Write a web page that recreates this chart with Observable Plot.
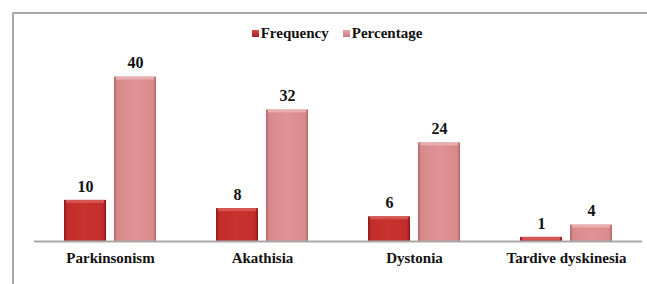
<!DOCTYPE html>
<html>
<head>
<meta charset="utf-8">
<script src="https://cdn.jsdelivr.net/npm/d3@7"></script>
<script src="https://cdn.jsdelivr.net/npm/@observablehq/plot@0.6"></script>
<style>
  html, body { margin: 0; padding: 0; background: #fff; width: 647px; height: 284px; overflow: hidden; }
  #wrap { position: relative; width: 647px; height: 284px; }
  #frame { position: absolute; left: 12px; top: 12px; width: 700px; height: 300px; border-left: 2px solid #a8a8a8; border-top: 2px solid #a8a8a8; }
  #legend { position: absolute; top: 25px; left: 0; width: 674px; text-align: center; font-family: "Liberation Serif", "Times New Roman", serif; font-weight: bold; font-size: 15px; color: #111; }
  #legend span.item { margin: 0 7px; white-space: nowrap; }
  #legend span.sw { display: inline-block; width: 7px; height: 7px; margin-right: 2px; vertical-align: 1px; }
  #chart { position: absolute; left: 0; top: 0; }
  #chart svg, #chart svg text { font-family: "Liberation Serif", "Times New Roman", serif !important; }
</style>
</head>
<body>
<div id="wrap">
  <div id="frame"></div>
  <div id="chart"></div>
  <div id="legend"></div>
</div>
<script>
const categories = ["Parkinsonism", "Akathisia", "Dystonia", "Tardive dyskinesia"];
const series = ["Frequency", "Percentage"];
const frequency = [10, 8, 6, 1];
const percentage = [40, 32, 24, 4];

const data = [];
categories.forEach((c, i) => {
  data.push({category: c, series: "Frequency", value: frequency[i]});
  data.push({category: c, series: "Percentage", value: percentage[i]});
});

const fills = {Frequency: "url(#gFreq)", Percentage: "url(#gPct)"};
const tops = {Frequency: "#d65a56", Percentage: "#eab1b2"};

const chart = Plot.plot({
  width: 647,
  height: 284,
  marginLeft: 33,
  marginRight: 5,
  marginTop: 56,
  marginBottom: 43,
  style: {fontWeight: "bold", fontSize: "15px", color: "#111", background: "transparent", overflow: "visible"},
  fx: {domain: categories, padding: 0, label: null, axis: "bottom", tickSize: 0, tickPadding: 11},
  x: {domain: series, paddingInner: 0.16, paddingOuter: 0.6, axis: null},
  y: {domain: [0, 45], axis: null},
  marks: [
    ...series.map(s => Plot.barY(data.filter(d => d.series === s), {fx: "category", x: "series", y: "value", fill: fills[s]})),
    ...series.map(s => Plot.barY(data.filter(d => d.series === s), {fx: "category", x: "series", y1: "value", y2: "value", insetBottom: -3, insetLeft: 2, insetRight: 2, fill: tops[s], fillOpacity: 0.9})),
    Plot.text(data, {fx: "category", x: "series", y: "value", text: d => String(d.value), dy: -14, fontSize: 16, fontWeight: "bold", fill: "#111"}),
    Plot.ruleY([0], {stroke: "#a8a8a8", strokeWidth: 2})
  ]
});

const svg = d3.select(chart);
const defs = svg.insert("defs", ":first-child");
function grad(id, edge, base, light) {
  const g = defs.append("linearGradient").attr("id", id).attr("x1", 0).attr("x2", 1).attr("y1", 0).attr("y2", 0);
  g.append("stop").attr("offset", "0%").attr("stop-color", edge);
  g.append("stop").attr("offset", "8%").attr("stop-color", base);
  g.append("stop").attr("offset", "50%").attr("stop-color", light);
  g.append("stop").attr("offset", "92%").attr("stop-color", base);
  g.append("stop").attr("offset", "100%").attr("stop-color", edge);
}
grad("gFreq", "#8c1a1a", "#c22c2a", "#c9332f");
grad("gPct", "#b46a6c", "#d98a8c", "#df9395");

document.getElementById("chart").appendChild(chart);

const legendColors = {Frequency: "linear-gradient(#d44a47,#a81f1f)", Percentage: "linear-gradient(#e8a7a8,#c97a7c)"};
const legend = document.getElementById("legend");
series.forEach(s => {
  const item = document.createElement("span");
  item.className = "item";
  const sw = document.createElement("span");
  sw.className = "sw";
  sw.style.background = legendColors[s];
  item.appendChild(sw);
  item.appendChild(document.createTextNode(s));
  legend.appendChild(item);
});
</script>
</body>
</html>
